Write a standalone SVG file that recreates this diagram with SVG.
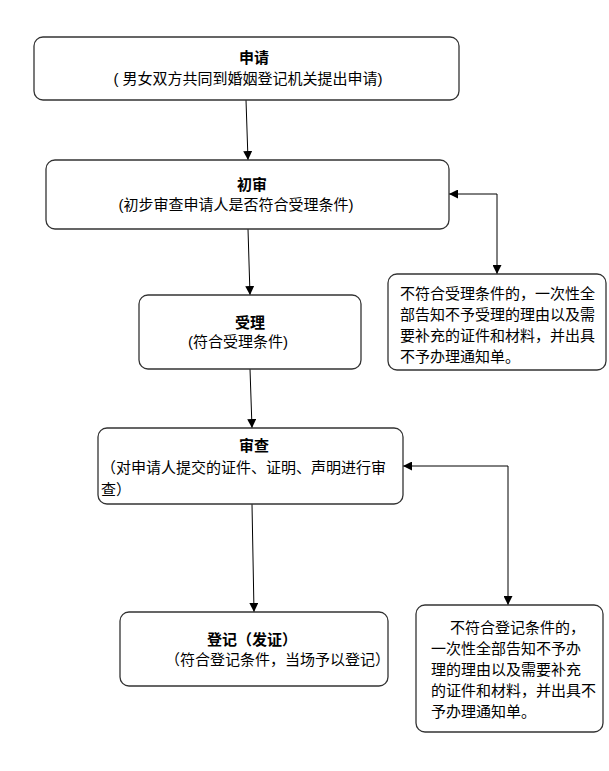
<svg xmlns="http://www.w3.org/2000/svg" width="609" height="771" viewBox="0 0 609 771">
<style>
.box{fill:#fff;stroke:#333;stroke-width:1.3}
.t{font-family:"Liberation Sans","Noto Sans CJK SC",sans-serif;font-size:15px;fill:#000}
.b{font-weight:bold}
.m{text-anchor:middle}
.c{fill:none;stroke:#000;stroke-width:1}
</style>
<defs>
<marker id="ah" viewBox="0 0 10 10" refX="10" refY="5" markerWidth="9" markerHeight="9" markerUnits="userSpaceOnUse" orient="auto">
<path d="M0,0 L10,5 L0,10 Z" fill="#000"/>
</marker>
<marker id="ahs" viewBox="0 0 10 10" refX="0" refY="5" markerWidth="9" markerHeight="9" markerUnits="userSpaceOnUse" orient="auto">
<path d="M10,0 L0,5 L10,10 Z" fill="#000"/>
</marker>
</defs>
<rect width="609" height="771" fill="#fff"/>
<g id="connectors">
<line class="c" x1="246" y1="100" x2="248" y2="160" marker-end="url(#ah)"/>
<line class="c" x1="248" y1="229" x2="250" y2="295" marker-end="url(#ah)"/>
<line class="c" x1="250" y1="369" x2="252" y2="428" marker-end="url(#ah)"/>
<line class="c" x1="252" y1="504" x2="254" y2="612" marker-end="url(#ah)"/>
<polyline class="c" points="449,194 497,194 497,274" marker-start="url(#ahs)" marker-end="url(#ah)"/>
<polyline class="c" points="403,466 508,466 508,605" marker-start="url(#ahs)" marker-end="url(#ah)"/>
</g>
<g id="n1">
<rect class="box" x="34" y="37" width="425" height="63" rx="9"/>
<text class="t b m" x="254" y="63">申请</text>
<text class="t m" x="248" y="84">( 男女双方共同到婚姻登记机关提出申请)</text>
</g>
<g id="n2">
<rect class="box" x="46" y="160" width="403" height="69" rx="9"/>
<text class="t b m" x="252" y="190">初审</text>
<text class="t m" x="236" y="210">(初步审查申请人是否符合受理条件)</text>
</g>
<g id="n3">
<rect class="box" x="139" y="295" width="222" height="74" rx="9"/>
<text class="t b m" x="250" y="328">受理</text>
<text class="t m" x="238" y="347">(符合受理条件)</text>
</g>
<g id="n4">
<rect class="box" x="98" y="428" width="305" height="76" rx="9"/>
<text class="t b m" x="254" y="451">审查</text>
<text class="t" x="101" y="473">（对申请人提交的证件、证明、声明进行审</text>
<text class="t" x="101" y="495">查）</text>
</g>
<g id="n5">
<rect class="box" x="120" y="612" width="268" height="74" rx="9"/>
<text class="t b m" x="252" y="645">登记（发证）</text>
<text class="t" x="165" y="665">（符合登记条件，当场予以登记）</text>
</g>
<g id="r1">
<rect class="box" x="388" y="274" width="218" height="96" rx="9"/>
<text class="t" x="400" y="299">不符合受理条件的，一次性全</text>
<text class="t" x="400" y="320">部告知不予受理的理由以及需</text>
<text class="t" x="400" y="341">要补充的证件和材料，并出具</text>
<text class="t" x="400" y="362">不予办理通知单。</text>
</g>
<g id="r2">
<rect class="box" x="416" y="605" width="187" height="127" rx="9"/>
<text class="t" x="450" y="633">不符合登记条件的，</text>
<text class="t" x="431" y="654">一次性全部告知不予办</text>
<text class="t" x="431" y="675">理的理由以及需要补充</text>
<text class="t" x="431" y="696">的证件和材料，并出具不</text>
<text class="t" x="431" y="717">予办理通知单。</text>
</g>
</svg>
